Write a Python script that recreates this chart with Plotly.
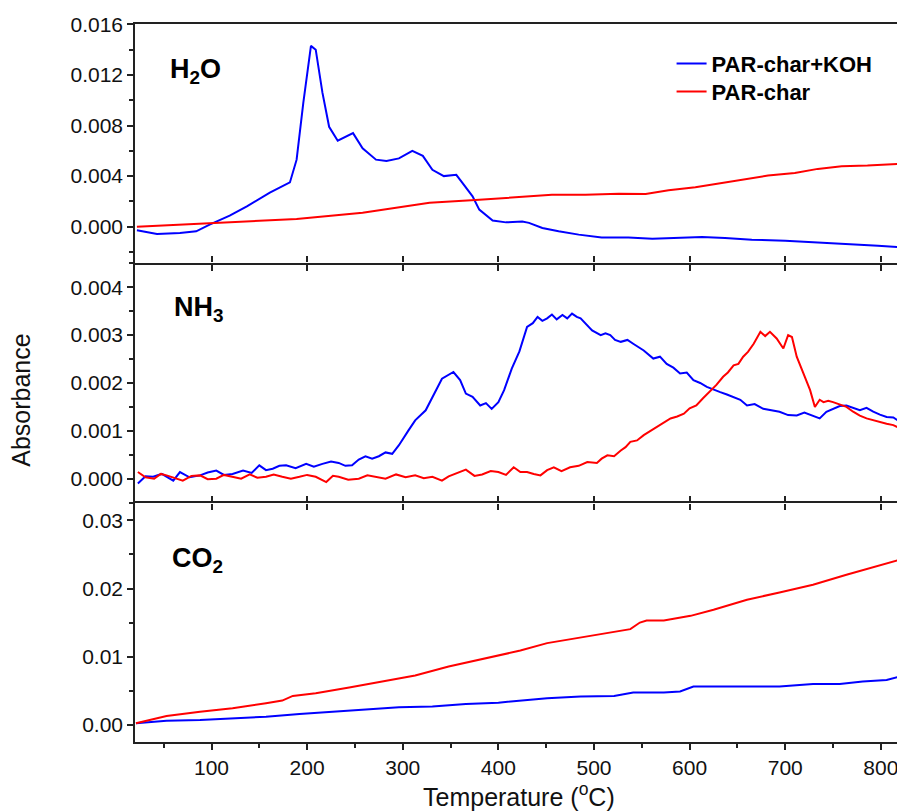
import plotly.graph_objects as go
from plotly.subplots import make_subplots

# ---------------- data ----------------
h2o_koh_T = [22, 43, 67, 84, 98, 119, 137, 161, 182, 189, 196, 204, 209, 216, 223, 232, 248, 258, 272,
             283, 296, 310, 321, 331, 343, 356, 362, 373, 380, 394, 408, 425, 432, 446, 463, 484, 508,
             536, 561, 588, 613, 637, 665, 700, 734, 769, 797, 818]
h2o_koh_v = [-0.00029, -0.00058, -0.0005, -0.00037, 0.00016, 0.00087, 0.0016, 0.0027, 0.0035, 0.0053,
             0.0098, 0.0143, 0.0140, 0.0106, 0.0079, 0.0068, 0.0074, 0.0062, 0.0053, 0.0052, 0.0054,
             0.0060, 0.0056, 0.0045, 0.0040, 0.0041, 0.0035, 0.0024, 0.00135, 0.00048, 0.00034, 0.0004,
             0.0003, -0.0001, -0.00037, -0.00063, -0.00085, -0.00085, -0.00095, -0.0009, -0.00082,
             -0.0009, -0.00103, -0.00111, -0.00124, -0.00135, -0.0015, -0.00161]

h2o_par_T = [22, 100, 189, 258, 328, 376, 432, 456, 491, 526, 554, 578, 606, 630, 658, 682, 710, 734,
             759, 786, 818]
h2o_par_v = [0.0, 0.0003, 0.0006, 0.0011, 0.0019, 0.0021, 0.0024, 0.00253, 0.00253, 0.00261, 0.00259,
             0.00288, 0.00311, 0.0034, 0.00372, 0.00404, 0.00425, 0.00457, 0.00478, 0.00483, 0.00497]

nh3_koh_T = [23, 31, 39, 48, 60, 67, 77, 88, 96, 105, 113, 122, 133, 142, 150, 157, 164, 171, 178, 188,
             199, 207, 216, 225, 233, 240, 247, 254, 261, 268, 275, 282, 289, 296,
             306, 313, 324, 331, 341, 353, 360, 366, 373, 381, 387, 393, 400, 406, 411, 414, 422, 430,
             436, 441, 446, 451, 456, 461, 467, 472, 477, 482, 486, 492, 498, 507, 512, 517, 522, 528,
             535, 541, 547, 552, 562, 569, 576, 583, 590, 597, 604, 611, 618, 625, 632, 639, 646, 653,
             660, 668, 677, 686, 694, 703, 712, 720, 729, 736, 743, 750, 757, 764, 771, 778, 785, 792,
             799, 806, 813, 820]
nh3_koh_v = [-0.0001, 0.00005, 0.00004, 0.0001, -0.00004, 0.00014, 0.00003, 0.00007, 0.00013, 0.00017,
             0.00008, 0.0001, 0.00017, 0.00012, 0.00028, 0.00018, 0.00021, 0.00027, 0.00028, 0.00022,
             0.00031, 0.00025, 0.00031, 0.00036, 0.00033, 0.00027, 0.00028, 0.0004, 0.00047, 0.00042,
             0.00047, 0.00055, 0.00052, 0.0007,
             0.00101, 0.00122, 0.00143, 0.00171, 0.00209, 0.00223, 0.00206, 0.00178, 0.00171, 0.00153,
             0.00158, 0.00146, 0.0016, 0.00185, 0.00213, 0.0023, 0.00266, 0.00317,
             0.00325, 0.00338, 0.0033, 0.00335, 0.00343, 0.00333, 0.00342, 0.00335, 0.00345, 0.00338,
             0.00335, 0.00322, 0.0031, 0.003, 0.00304, 0.003, 0.0029, 0.00286,
             0.0029, 0.00282, 0.00275, 0.00268, 0.00251, 0.00255, 0.0024, 0.00232, 0.0022, 0.00222,
             0.00206, 0.002, 0.00192, 0.00186, 0.00181, 0.00176, 0.00171, 0.00165,
             0.00153, 0.00156, 0.00146, 0.00143, 0.0014, 0.00133, 0.00132, 0.00138, 0.00132, 0.00126,
             0.0014, 0.00146, 0.00152, 0.00153, 0.00148, 0.00143, 0.00148, 0.0014,
             0.00134, 0.00129, 0.00128, 0.00119]

nh3_par_T = [23, 31, 40, 47, 53, 61, 70, 79, 88, 96, 105, 113, 122, 131, 140, 148, 157, 165, 174, 183,
             192, 200, 209, 220, 227, 233, 243, 254, 263, 272, 282, 293, 303, 313, 322, 331,
             341, 348, 355, 366, 375, 383, 392, 400, 408, 416, 423, 430, 437, 444, 451, 458, 466, 475,
             484, 493, 503, 508, 514, 521, 528, 533, 538, 545, 552, 559, 566, 573, 580, 587,
             594, 600, 607, 614, 621, 628, 635, 640, 646, 651, 656, 661, 667, 674, 679, 684, 691, 698,
             703, 707, 712, 719, 726, 731, 736, 740, 745, 750, 757, 764, 771, 778, 785, 792, 799, 806,
             813, 820]
nh3_par_v = [0.00014, 0.00003, 0.0, 0.0001, 0.00007, 0.00002, -0.00004, 0.00006, 0.00007, -0.00001,
             0.0, 0.00008, 0.00004, 0.0, 0.00009, 0.00002, 0.00004, 0.00009, 0.00004, 0.0, 0.00004,
             0.00008, 0.00004, -0.00007, 0.00006, 0.00004, -0.00002, 0.0, 0.00007, 0.00004, 0.0,
             0.00009, 0.00003, 0.00007, 0.00001, 0.00004,
             -0.00004, 0.00005, 0.0001, 0.00019, 0.00006, 0.00009, 0.00016, 0.00014, 0.00008, 0.00024,
             0.00014, 0.00014, 0.0001, 0.00007, 0.00018, 0.00024, 0.00016, 0.00024, 0.00027, 0.00035,
             0.00033, 0.00042, 0.00049, 0.00047, 0.00059, 0.00066, 0.00077, 0.0008, 0.00091, 0.001,
             0.00108, 0.00118, 0.00126, 0.0013,
             0.00136, 0.00147, 0.00153, 0.00168, 0.00181, 0.00196, 0.00213, 0.00222, 0.00237, 0.0024,
             0.00255, 0.00265, 0.00282, 0.00307, 0.00298, 0.00307, 0.00293, 0.00272, 0.003, 0.00296,
             0.00255, 0.0022, 0.00185, 0.0015, 0.00165, 0.0016, 0.00163, 0.0016, 0.00155, 0.0015,
             0.0014, 0.00132, 0.00126, 0.00122, 0.00118, 0.00115, 0.00112, 0.00105]

co2_koh_T = [21, 53, 88, 122, 157, 192, 227, 261, 296, 331, 366, 400, 423, 451, 486, 521, 541, 573, 590,
             604, 625, 660, 694, 729, 757, 781, 806, 820]
co2_koh_v = [0.00025, 0.00063, 0.00073, 0.00093, 0.00122, 0.00162, 0.00195, 0.00235, 0.0026, 0.00269,
             0.00308, 0.00327, 0.00352, 0.00392, 0.00416, 0.00426, 0.00475, 0.00475, 0.0049, 0.00563,
             0.00563, 0.00563, 0.00563, 0.00602, 0.00602, 0.00636, 0.00661, 0.00709]

co2_par_T = [21, 53, 88, 122, 157, 174, 185, 209, 244, 279, 313, 348, 383, 423, 451, 486, 521, 538, 548,
             555, 573, 601, 625, 660, 694, 729, 764, 799, 820]
co2_par_v = [0.00025, 0.00132, 0.00195, 0.00245, 0.00319, 0.00357, 0.00426, 0.00465, 0.00548, 0.00636,
             0.00724, 0.00856, 0.00965, 0.01091, 0.012, 0.01282, 0.01355, 0.01405, 0.01502, 0.01532,
             0.01532, 0.016, 0.01689, 0.01836, 0.01943, 0.02056, 0.02203, 0.02339, 0.02423]

series_names = ["PAR-char+KOH", "PAR-char"]
panel_labels = ["H<sub>2</sub>O", "NH<sub>3</sub>", "CO<sub>2</sub>"]

# ---------------- figure ----------------
FONT = "Arial, Liberation Sans, sans-serif"
BLUE = "#0000FF"
RED = "#FF0000"
AX = "#222222"

fig = make_subplots(rows=3, cols=1, shared_xaxes=True, vertical_spacing=0)

panels = [
    (h2o_koh_T, h2o_koh_v, h2o_par_T, h2o_par_v),
    (nh3_koh_T, nh3_koh_v, nh3_par_T, nh3_par_v),
    (co2_koh_T, co2_koh_v, co2_par_T, co2_par_v),
]
for i, (tb, vb, tr, vr) in enumerate(panels, start=1):
    fig.add_trace(go.Scatter(x=tb, y=vb, mode="lines", name=series_names[0], legend="legend",
                             line=dict(color=BLUE, width=2), showlegend=(i == 1)), row=i, col=1)
    fig.add_trace(go.Scatter(x=tr, y=vr, mode="lines", name=series_names[1], legend="legend2",
                             line=dict(color=RED, width=2), showlegend=(i == 1)), row=i, col=1)

# dummy trace for the top-side ticks of the bottom panel
fig.add_trace(go.Scatter(x=[None], y=[None], xaxis="x4", yaxis="y3", showlegend=False,
                         hoverinfo="skip"))

common_x = dict(range=[20, 820], linecolor=AX, linewidth=1.5,
                showgrid=False, zeroline=False, tick0=0, dtick=100, tickcolor=AX, tickwidth=1.5)
fig.update_layout(
    # top panel: frame line at top (mirror) and at the shared boundary
    xaxis=dict(**common_x, showline=True, mirror=True, ticks="outside", ticklen=6,
               showticklabels=False),
    # middle panel: only ticks, the boundary lines come from the neighbours
    xaxis2=dict(**common_x, showline=False, mirror="ticks", ticks="outside", ticklen=6,
                showticklabels=False),
    xaxis3=dict(**common_x, showline=True, mirror=True, ticks="outside", ticklen=6,
                showticklabels=True,
                tickfont=dict(size=21, family=FONT, color="#111"),
                minor=dict(ticks="outside", ticklen=4, dtick=50, tick0=0, tickcolor=AX, tickwidth=1.5)),
    xaxis4=dict(range=[20, 820], overlaying="x3", anchor="y3", side="top", ticks="outside",
                ticklen=6, tick0=0, dtick=100, tickcolor=AX, tickwidth=1.5, showticklabels=False,
                showline=False, showgrid=False, zeroline=False),
)

y_specs = [
    ([-0.0029, 0.01603], 0.004, 0.002, ".3f"),
    ([-0.0005, 0.0045], 0.001, 0.0005, ".3f"),
    ([-0.0025, 0.0326], 0.01, 0.005, ".2f"),
]
for i, (rng, dt, mdt, fmt) in enumerate(y_specs, start=1):
    fig.update_yaxes(range=rng, dtick=dt, tick0=0, tickformat=fmt, ticks="outside", ticklen=6,
                     tickcolor=AX, tickwidth=1.5, showline=True, linecolor=AX, linewidth=1.5,
                     mirror=True, showgrid=False, zeroline=False,
                     tickfont=dict(size=21, family=FONT, color="#111"),
                     minor=dict(ticks="outside", ticklen=4, dtick=mdt, tick0=0, tickcolor=AX,
                                tickwidth=1.5),
                     row=i, col=1)

annotations = []
label_pos = [(0.043, 0.9614), (0.048, 0.629), (0.0456, 0.2794)]
for txt, (ax_, ay_) in zip(panel_labels, label_pos):
    annotations.append(dict(text=txt, x=ax_, y=ay_, xref="paper", yref="paper", xanchor="left",
                            yanchor="top", showarrow=False,
                            font=dict(size=27, family=FONT, color="#000", weight="bold")))
annotations.append(dict(text="Temperature (<sup>o</sup>C)", x=0.502, y=-0.0734, xref="paper",
                        yref="paper", xanchor="center", yanchor="middle", showarrow=False,
                        font=dict(size=25, family=FONT, color="#111")))
annotations.append(dict(text="Absorbance", x=-0.149, y=0.4753, xref="paper", yref="paper",
                        xanchor="center", yanchor="middle", textangle=-90, showarrow=False,
                        font=dict(size=25, family=FONT, color="#111")))

legend_common = dict(xanchor="left", yanchor="top", bgcolor="rgba(0,0,0,0)",
                     font=dict(size=22, family=FONT, color="#000", weight="bold"))

# the page body has an 8px margin, so the figure is sized/placed to compensate
fig.update_layout(
    width=897, height=803,
    margin=dict(l=127, r=3, t=16, b=69),
    paper_bgcolor="white", plot_bgcolor="white",
    font=dict(family=FONT, color="#111"),
    annotations=annotations,
    legend=dict(x=0.7014, y=0.9740, **legend_common),
    legend2=dict(x=0.7014, y=0.9350, **legend_common),
)

fig.write_html("out.html")
